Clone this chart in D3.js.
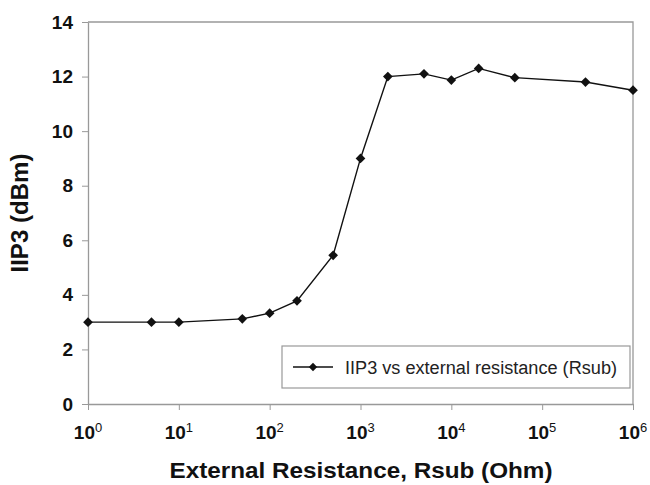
<!DOCTYPE html>
<html>
<head>
<meta charset="utf-8">
<script src="https://cdn.jsdelivr.net/npm/d3@7"></script>
<style>
  body { margin: 0; background: #fff; }
  svg { font-family: Arial, "Liberation Sans", sans-serif; }
</style>
</head>
<body>
<svg id="chart" width="650" height="485"></svg>
<script>
// resistance (Ohm) and IIP3 (dBm)
const rsub = [1, 5, 10, 50, 100, 200, 500, 1000, 2000, 5000, 10000, 20000, 50000, 300000, 1000000];
const iip3 = [3.0, 3.0, 3.0, 3.12, 3.33, 3.78, 5.45, 9.0, 12.0, 12.1, 11.87, 12.3, 11.96, 11.8, 11.5];
const xTicks = [0, 1, 2, 3, 4, 5, 6];          // exponents of 10
const yTicks = [0, 2, 4, 6, 8, 10, 12, 14];
const seriesName = "IIP3 vs external resistance (Rsub)";

const data = rsub.map((r, i) => ({ r: r, v: iip3[i] }));

const margin = { top: 22, right: 17, bottom: 81, left: 88 },
  width = 650 - margin.left - margin.right,
  height = 485 - margin.top - margin.bottom;

const x = d3.scaleLog().domain([1, 1e6]).range([0, width]);
const y = d3.scaleLinear().domain([0, 14]).range([height, 0]);

const svg = d3.select("#chart");
const chart = svg.append("g")
  .attr("transform", "translate(" + margin.left + "," + margin.top + ")");

// frame (top and right)
chart.append("path")
  .attr("d", "M0,0H" + width + "V" + height)
  .attr("fill", "none")
  .attr("stroke", "#999")
  .attr("stroke-width", 1.3);

// y axis
const yAxis = chart.append("g")
  .call(d3.axisLeft(y).tickValues(yTicks).tickSize(6).tickPadding(9).tickSizeOuter(0));
yAxis.select(".domain").attr("stroke", "#999").attr("stroke-width", 1.3);
yAxis.selectAll(".tick line").attr("stroke", "#999");
yAxis.selectAll(".tick text")
  .attr("font-size", 19).attr("font-weight", "bold").attr("fill", "#111")
  .attr("font-family", "Arial, 'Liberation Sans', sans-serif");

// x axis
const xAxis = chart.append("g")
  .attr("transform", "translate(0," + height + ")")
  .call(d3.axisBottom(x).tickValues(xTicks.map(e => Math.pow(10, e))).tickSize(6).tickSizeOuter(0).tickFormat(""));
xAxis.select(".domain").attr("stroke", "#999").attr("stroke-width", 1.3);
xAxis.selectAll(".tick line").attr("stroke", "#999");

const xl = chart.append("g").attr("transform", "translate(0," + height + ")");
xTicks.forEach(e => {
  const t = xl.append("text")
    .attr("x", x(Math.pow(10, e)))
    .attr("y", 35)
    .attr("text-anchor", "middle")
    .attr("font-size", 19).attr("font-weight", "bold").attr("fill", "#111");
  t.append("tspan").text("10");
  t.append("tspan").attr("dy", -7).attr("font-size", 13).attr("font-weight", "normal").text(e);
});

// axis titles
svg.append("text")
  .attr("transform", "translate(28,213) rotate(-90)")
  .attr("text-anchor", "middle")
  .attr("font-size", 23).attr("font-weight", "bold").attr("fill", "#111")
  .attr("textLength", 119).attr("lengthAdjust", "spacingAndGlyphs")
  .text("IIP3 (dBm)");

svg.append("text")
  .attr("x", 361).attr("y", 478)
  .attr("text-anchor", "middle")
  .attr("font-size", 22).attr("font-weight", "bold").attr("fill", "#111")
  .attr("textLength", 383).attr("lengthAdjust", "spacingAndGlyphs")
  .text("External Resistance, Rsub (Ohm)");

// line
const line = d3.line().x(d => x(d.r)).y(d => y(d.v));
chart.append("path")
  .datum(data)
  .attr("d", line)
  .attr("fill", "none")
  .attr("stroke", "#111")
  .attr("stroke-width", 1.4);

const diamond = d3.symbol().type(d3.symbolDiamond2).size(60);
chart.selectAll(".pt")
  .data(data)
  .enter().append("path")
  .attr("class", "pt")
  .attr("transform", d => "translate(" + x(d.r) + "," + y(d.v) + ")")
  .attr("d", diamond)
  .attr("fill", "#111");

// legend
const lg = svg.append("g").attr("transform", "translate(282,346)");
lg.append("rect")
  .attr("width", 348).attr("height", 42)
  .attr("fill", "#fff").attr("stroke", "#999").attr("stroke-width", 1.2);
lg.append("line")
  .attr("x1", 11).attr("x2", 51).attr("y1", 21).attr("y2", 21)
  .attr("stroke", "#111").attr("stroke-width", 1.4);
lg.append("path")
  .attr("transform", "translate(31,21)")
  .attr("d", d3.symbol().type(d3.symbolDiamond2).size(45))
  .attr("fill", "#111");
lg.append("text")
  .attr("x", 63).attr("y", 28)
  .attr("font-size", 18).attr("fill", "#222")
  .attr("textLength", 272).attr("lengthAdjust", "spacingAndGlyphs")
  .text(seriesName);
</script>
</body>
</html>
